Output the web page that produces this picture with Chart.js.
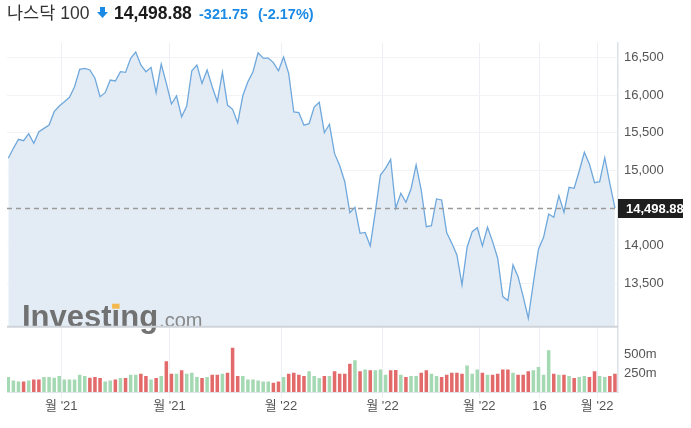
<!DOCTYPE html>
<html>
<head>
<meta charset="utf-8">
<script src="https://cdn.jsdelivr.net/npm/chart.js@4.4.1/dist/chart.umd.min.js"></script>
<style>
  html, body { margin: 0; padding: 0; background: #fff; }
  #wrap { position: relative; width: 691px; height: 428px; overflow: hidden; }
  #chart { position: absolute; left: 0; top: 0; }
  .h { position: absolute; top: 2px; line-height: 22px; white-space: nowrap;
       font-family: "Liberation Sans", "Noto Sans CJK KR", Arial, sans-serif; }
  .blue { color: #1a8ae5; font-weight: bold; font-size: 14.5px; top: 3px; }
</style>
</head>
<body>
<div id="wrap">
  <canvas id="chart" width="691" height="428"></canvas>
  <span class="h" style="left:7px;font-size:17.5px;color:#333">나스닥 100</span>
  <svg style="position:absolute;left:97px;top:7px" width="11" height="12" viewBox="0 0 11 12">
    <rect x="3" y="0" width="5" height="6" fill="#1a8ae5"/>
    <polygon points="0,5 11,5 5.5,11" fill="#1a8ae5"/>
  </svg>
  <span class="h" style="left:114px;font-size:17.5px;font-weight:bold;color:#1b1b1b">14,498.88</span>
  <span class="h blue" style="left:199px">-321.75</span>
  <span class="h blue" style="left:258px">(-2.17%)</span>
</div>
<script>
// daily closes
const closes = [
  15161, 15293, 15413, 15394, 15487, 15360, 15513, 15558, 15602, 15779,
  15854, 15911, 15970, 16110, 16341, 16354, 16332, 16222, 15978, 16031,
  16199, 16186, 16309, 16300, 16487, 16570, 16398, 16309, 16367, 16031,
  16411, 16155, 15881, 15987, 15712, 15854, 16322, 16398, 16155, 16332,
  16110, 15911, 16301, 15867, 15810, 15630, 15990, 16177, 16309, 16561,
  16490, 16490, 16430, 16322, 16505, 16288, 15775, 15766, 15600, 15620,
  15840, 15903, 15500, 15612, 15222, 15065, 14850, 14440, 14511, 14166,
  14177, 13998, 14453, 14939, 15028, 15147, 14498, 14697, 14577, 14754,
  15072, 14740, 14254, 14267, 14621, 14608, 14174, 14033, 13879, 13481,
  13981, 14187, 14240, 14000, 14246, 14055, 13835, 13326, 13273, 13746,
  13591, 13326, 13039, 13511, 13954, 14113, 14422, 14378, 14665, 14445,
  14776, 14763, 14992, 15240, 15081, 14837, 14850, 15169, 14829, 14498.88
];

// volume in millions
const volumes = [
  200, 155, 142, 142, 155, 169, 169, 200, 200, 191,
  214, 169, 169, 169, 232, 214, 191, 200, 187, 142,
  155, 169, 187, 187, 232, 232, 246, 214, 169, 187,
  214, 412, 246, 246, 290, 246, 259, 200, 187, 200,
  232, 232, 246, 259, 592, 214, 214, 169, 169, 155,
  142, 142, 124, 142, 200, 246, 259, 232, 214, 277,
  214, 187, 214, 214, 277, 246, 246, 380, 425, 277,
  303, 290, 290, 303, 232, 290, 295, 232, 200, 214,
  214, 259, 290, 246, 214, 200, 232, 259, 259, 246,
  355, 246, 303, 259, 232, 232, 246, 303, 303, 259,
  232, 232, 277, 290, 335, 232, 560, 246, 232, 232,
  214, 187, 200, 214, 200, 277, 214, 200, 214, 246
];

// g = up day, r = down day
const volColor = [
  'g','g','g','r','g','r','r','g','g','g',
  'g','g','g','g','g','g','r','r','r','g',
  'g','r','g','r','g','g','r','r','g','r',
  'g','r','r','g','r','g','g','g','r','g',
  'r','r','g','r','r','r','g','g','g','g',
  'g','g','r','r','g','r','r','r','r','g',
  'g','g','r','g','r','r','r','r','g','r',
  'g','r','g','g','g','r','r','g','r','g',
  'g','r','r','g','g','r','r','r','r','r',
  'g','g','g','r','g','r','r','r','r','g',
  'r','r','r','g','g','g','g','r','g','r',
  'g','r','g','g','r','r','g','g','r','r'
];

const xTickPos = [10.4, 31.6, 53.5, 73.4, 92.4, 104.2, 115.5];
const xTickLabels = ["월 '21", "월 '21", "월 '22", "월 '22", "월 '22", "16", "월 '22"];
const priceTicks = [13500, 14000, 15000, 15500, 16000, 16500];
const volTicks = [250, 500];
const lastPrice = 14498.88;

const FONT = "'Liberation Sans', 'Noto Sans CJK KR', Arial, sans-serif";
Chart.defaults.font.family = FONT;
Chart.defaults.font.size = 13;
Chart.defaults.color = '#555';

const GREEN = '#a5d9b3';
const RED = '#e26a6a';

const extras = {
  id: 'extras',
  afterDatasetsDraw(chart) {
    const { ctx, chartArea, scales } = chart;
    const y = scales.y;
    ctx.save();

    // watermark
    ctx.textBaseline = 'alphabetic';
    ctx.fillStyle = 'rgba(100,100,100,0.9)';
    ctx.font = 'bold 31px ' + FONT;
    const wx = 22, wy = y.bottom;
    ctx.fillText('Investing', wx, wy);
    const wInv = ctx.measureText('Investing').width;
    const wPre = ctx.measureText('Invest').width;
    ctx.fillStyle = '#f3b94d';
    ctx.fillRect(wx + wPre + 0.5, wy - 23, 7.5, 5);
    ctx.fillStyle = 'rgba(125,125,125,0.9)';
    ctx.font = '20px ' + FONT;
    ctx.fillText('.com', wx + wInv + 1, wy);

    // panel separator
    ctx.strokeStyle = '#cfd4da';
    ctx.lineWidth = 2;
    ctx.beginPath();
    ctx.moveTo(chartArea.left, y.bottom);
    ctx.lineTo(chartArea.right, y.bottom);
    ctx.stroke();

    // last price dashed line
    const py = Math.round(y.getPixelForValue(lastPrice)) + 0.5;
    ctx.strokeStyle = '#9a9a9a';
    ctx.lineWidth = 1.5;
    ctx.setLineDash([5, 4]);
    ctx.beginPath();
    ctx.moveTo(chartArea.left, py);
    ctx.lineTo(chartArea.right, py);
    ctx.stroke();
    ctx.setLineDash([]);

    // price tag
    ctx.fillStyle = '#1f1f1f';
    ctx.fillRect(y.left, py - 9.5, 65, 19);
    ctx.fillStyle = '#fff';
    ctx.font = 'bold 13px ' + FONT;
    ctx.textBaseline = 'middle';
    ctx.fillText(lastPrice.toLocaleString('en-US', { minimumFractionDigits: 2 }), y.left + 8, py + 0.5);
    ctx.restore();
  }
};

new Chart(document.getElementById('chart').getContext('2d'), {
  data: {
    datasets: [
      {
        type: 'line',
        data: closes.map((v, i) => ({ x: i, y: v })),
        yAxisID: 'y',
        borderColor: '#6fa8dc',
        borderWidth: 1.3,
        backgroundColor: '#e3ecf5',
        fill: 'start',
        pointRadius: 0,
        tension: 0
      },
      {
        type: 'bar',
        data: volumes.map((v, i) => ({ x: i, y: v })),
        yAxisID: 'yv',
        backgroundColor: volColor.map(c => c === 'g' ? GREEN : RED),
        barPercentage: 0.75,
        categoryPercentage: 0.92
      }
    ]
  },
  options: {
    responsive: false,
    animation: false,
    devicePixelRatio: 1,
    layout: { padding: { left: 7, top: 43, right: 0, bottom: 0 } },
    plugins: { legend: { display: false }, tooltip: { enabled: false } },
    scales: {
      x: {
        type: 'linear',
        offset: false,
        min: -0.255,
        max: 119.6,
        afterBuildTicks: s => { s.ticks = xTickPos.map(v => ({ value: v })); },
        afterFit: s => { s.height = 36; },
        ticks: {
          autoSkip: false,
          maxRotation: 0,
          padding: 1,
          color: '#555',
          callback: (v, i) => xTickLabels[i]
        },
        grid: { color: '#eceff3', tickLength: 6, offset: false },
        border: { color: '#e1e6ec' }
      },
      y: {
        position: 'right',
        stack: 'panels',
        stackWeight: 283.7,
        min: 12927,
        max: 16690,
        afterBuildTicks: s => { s.ticks = priceTicks.map(v => ({ value: v })); },
        afterFit: s => { s.width = 73; },
        ticks: {
          padding: 6,
          color: '#555',
          callback: v => v.toLocaleString('en-US')
        },
        grid: { color: '#f1f3f6', drawTicks: false },
        border: { color: '#dbe2ea', width: 1.5 }
      },
      yv: {
        position: 'right',
        stack: 'panels',
        stackWeight: 65.3,
        weight: 1,
        min: 0,
        max: 875,
        afterBuildTicks: s => { s.ticks = volTicks.map(v => ({ value: v })); },
        afterFit: s => { s.width = 73; },
        ticks: {
          padding: 6,
          color: '#555',
          callback: v => v + 'm'
        },
        grid: { display: false, drawTicks: false },
        border: { color: '#dbe2ea', width: 1.5 }
      }
    }
  },
  plugins: [extras]
});
</script>
</body>
</html>
